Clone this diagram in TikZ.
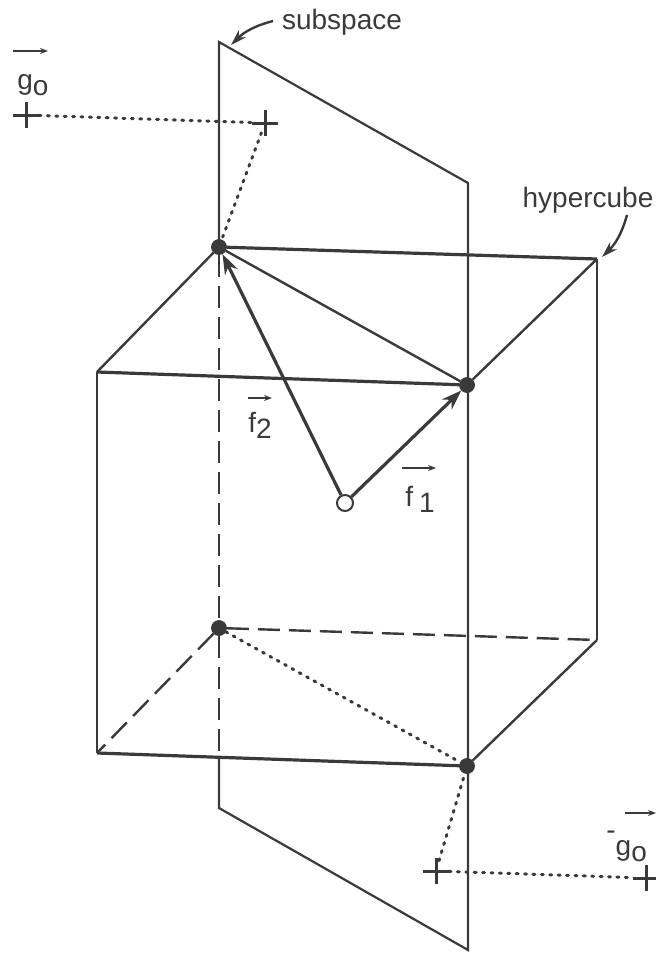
\documentclass[tikz,border=0pt]{standalone}
\usepackage{fontspec}
\setmainfont{Liberation Sans}
\usetikzlibrary{arrows.meta,shapes.misc}
\definecolor{Ink}{HTML}{3A3A3A}
\tikzset{
  vertexdot/.style={circle, fill=Ink, draw=Ink, inner sep=0pt, minimum size=7.5pt},
  origindot/.style={circle, fill=white, draw=Ink, line width=1pt, inner sep=0pt, minimum size=8pt},
  crossmark/.style={cross out, rotate=45, draw=Ink, line width=1.5pt, inner sep=0pt, minimum size=8pt},
  wordlabel/.style={text=Ink, font=\fontsize{14}{16}\selectfont, inner sep=0pt},
  planeline/.style={draw=Ink, line width=1.1pt},
  cubeline/.style={draw=Ink, line width=1.2pt},
  cubebold/.style={draw=Ink, line width=1.6pt},
  hiddenline/.style={draw=Ink, line width=1.2pt, dash pattern=on 11pt off 4.5pt},
  dotline/.style={draw=Ink, line width=1.5pt, line cap=round, dash pattern=on 1pt off 3.2pt},
  vecarrow/.style={-{Stealth[length=10pt,width=7pt]}, draw=Ink, line width=1.6pt},
  overarrow/.style={-{Stealth[length=4pt,width=3pt]}, draw=Ink, line width=1.3pt},
  pointer/.style={-{Stealth[length=8pt,width=5pt]}, draw=Ink, line width=1.2pt},
}
\begin{document}
\begin{tikzpicture}[x=0.5pt,y=-0.5pt]
  \useasboundingbox (0,0) rectangle (656,954);
  % subspace plane
  \coordinate (P1) at (219,42);
  \coordinate (P2) at (468,183);
  \coordinate (P3) at (468,950);
  \coordinate (P4) at (219,808);
  \coordinate (P5) at (219,757);
  % cube corners without a dot
  \coordinate (C1) at (597,259);
  \coordinate (C2) at (97,372);
  \coordinate (C3) at (97,753);
  \coordinate (C4) at (597,640);
  % dots and crosses
  \node[vertexdot] (V1) at (219,247) {};
  \node[vertexdot] (V2) at (467,385) {};
  \node[vertexdot] (V3) at (467,766) {};
  \node[vertexdot] (V4) at (219,628) {};
  \node[origindot] (O) at (345,503) {};
  \node[crossmark] (G1) at (26,115) {};
  \node[crossmark] (G2) at (265,123) {};
  \node[crossmark] (G3) at (436,871) {};
  \node[crossmark] (G4) at (646,878) {};
  % labels
  \node[wordlabel] (subspace) at (342,22) {subspace};
  \node[wordlabel] (hypercube) at (588,200) {hypercube};
  \node[wordlabel, anchor=west] (g0) at (17,85) {g\raisebox{-3pt}{o}};
  \node[wordlabel, anchor=west] (g0neg) at (606,846) {\raisebox{8pt}{-}g\raisebox{-3pt}{o}};
  \node[wordlabel, anchor=west] (f2) at (248,425) {f\raisebox{-3pt}{2}};
  \node[wordlabel, anchor=west] (f1) at (405,499) {f\hspace{3pt}\raisebox{-3pt}{1}};
  % little arrows above the labels
  \coordinate (A1) at (13,51);
  \coordinate (A2) at (48,51);
  \coordinate (A3) at (625,813);
  \coordinate (A4) at (656,813);
  \coordinate (A5) at (248,398);
  \coordinate (A6) at (272,398);
  \coordinate (A7) at (402,468);
  \coordinate (A8) at (436,468);
  \draw[overarrow] (A1) -- (A2);
  \draw[overarrow] (A3) -- (A4);
  \draw[overarrow] (A5) -- (A6);
  \draw[overarrow] (A7) -- (A8);
  % pointer ends
  \coordinate (S1) at (273,21);
  \coordinate (S2) at (231,45);
  \coordinate (H1) at (627,215);
  \coordinate (H2) at (602,257);
  % plane
  \draw[planeline] (V1) -- (P1) -- (P2) -- (P3) -- (P4) -- (P5);
  \draw[hiddenline] (V1) -- (V4);
  \draw[hiddenline] (V4) -- (P5);
  % cube
  \draw[cubebold] (V1) -- (C1);
  \draw[cubebold] (C2) -- (V2);
  \draw[cubebold] (C3) -- (V3);
  \draw[cubeline] (V1) -- (C2);
  \draw[cubeline] (V1) -- (V2);
  \draw[cubeline] (V2) -- (C1);
  \draw[cubeline] (C1) -- (C4);
  \draw[cubeline] (C2) -- (C3);
  \draw[cubeline] (V3) -- (C4);
  \draw[hiddenline] (V4) -- (C4);
  \draw[hiddenline] (V4) -- (C3);
  \draw[dotline] (V4) -- (V3);
  % projections
  \draw[dotline] (G1) -- (G2);
  \draw[dotline] (G2) -- (V1);
  \draw[dotline] (G3) -- (G4);
  \draw[dotline] (G3) -- (V3);
  % vectors
  \draw[vecarrow] (O) -- (V2);
  \draw[vecarrow] (O) -- (V1);
  % pointers
  \draw[pointer] (S1) to[bend right=15] (S2);
  \draw[pointer] (H1) to[bend left=15] (H2);
\end{tikzpicture}
\end{document}
